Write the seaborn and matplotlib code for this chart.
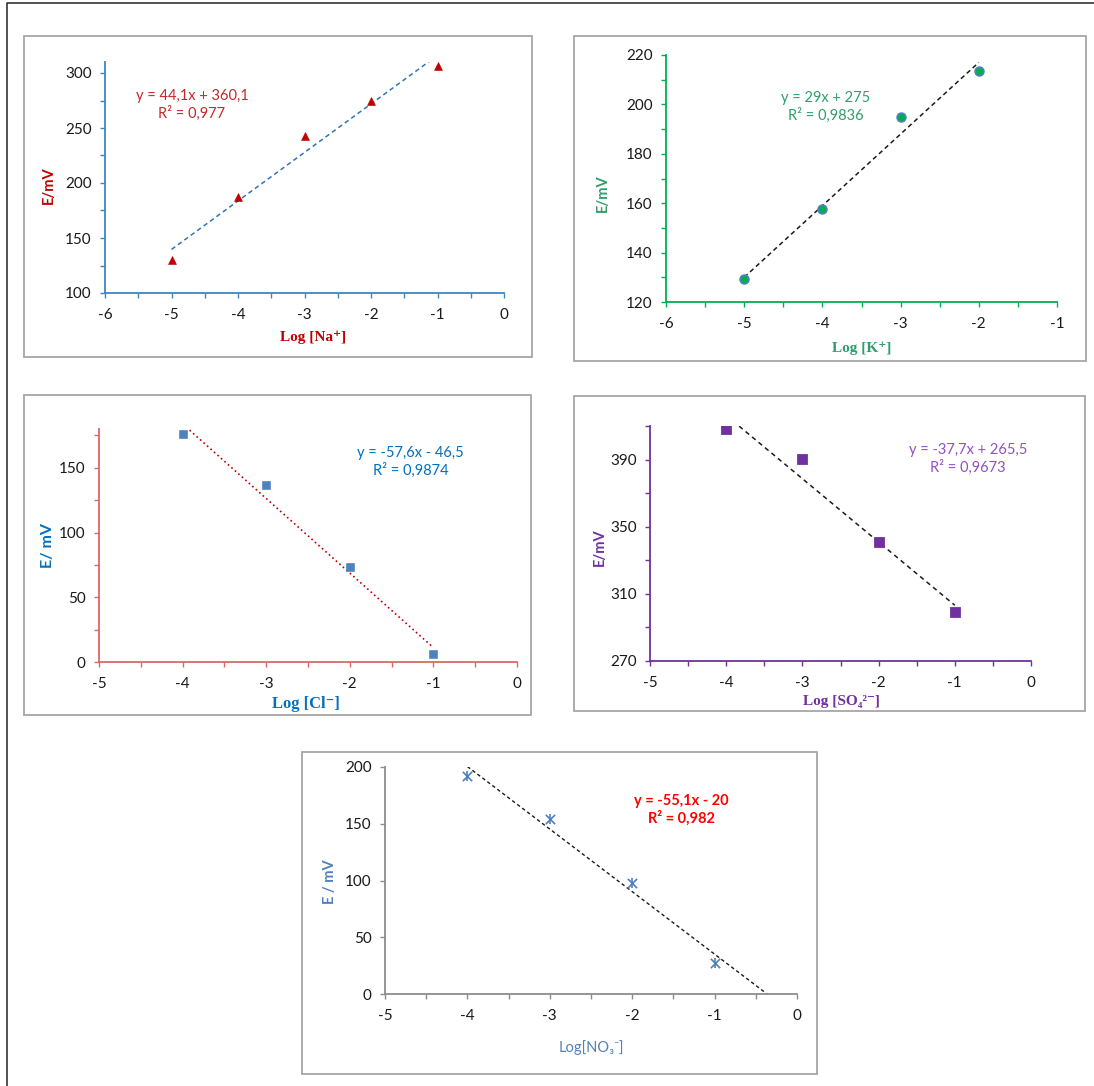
import matplotlib
matplotlib.use('Agg')
import matplotlib.pyplot as plt
from matplotlib.lines import Line2D
from matplotlib.patches import Rectangle
from matplotlib.ticker import MultipleLocator
import numpy as np
import seaborn as sns

W, H = 1094, 1086

# measured electrode potentials, E (mV) vs log of ion concentration
na_log = [-5, -4, -3, -2, -1]
na_e = [130, 187, 243, 274.5, 306]
k_log = [-5, -4, -3, -2]
k_e = [129.5, 157.5, 195, 213.5]
cl_log = [-4, -3, -2, -1]
cl_e = [176.5, 136.5, 73.5, 6]
so4_log = [-4, -3, -2, -1]
so4_e = [408, 390.5, 341, 299]
no3_log = [-4, -3, -2, -1]
no3_e = [192, 154, 98, 27]

# trendlines as printed on the original chart (slope, intercept)
na_fit = (44.1, 360.1)
k_fit = (29, 275)
cl_fit = (-57.6, -46.5)
so4_fit = (-37.7, 265.5)
no3_fit = (-55.1, -20)

na_eq = 'y = 44,1x + 360,1\nR² = 0,977'
k_eq = 'y = 29x + 275\nR² = 0,9836'
cl_eq = 'y = -57,6x - 46,5\nR² = 0,9874'
so4_eq = 'y = -37,7x + 265,5\nR² = 0,9673'
no3_eq = 'y = -55,1x - 20\nR² = 0,982'

sns.set_theme(style='white')
plt.rcParams['font.family'] = ['Lato', 'DejaVu Sans']

SERIF = ['Liberation Serif', 'DejaVu Serif']
SANS = ['Lato', 'DejaVu Sans']


def px_rect(left, top, right, bottom):
    return [left / W, 1 - bottom / H, (right - left) / W, (bottom - top) / H]


def panel(fig, box, rect, xs, ys, fit, span, xlim, ylim, xminor, yticks,
          axis_color, scatter_kw, line_kw, eq, eq_pos, eq_kw,
          ylabel, ylabel_xy, ylabel_kw, xlabel, xlabel_xy, xlabel_kw):
    # light gray frame around each chart, like the excel chart area
    l, t, r, b = box
    fig.add_artist(Rectangle((l / W, 1 - b / H), (r - l) / W, (b - t) / H,
                             transform=fig.transFigure, facecolor='none',
                             edgecolor='#a6a6a6', lw=1.3))
    ax = fig.add_axes(px_rect(*rect))
    ax.set_xlim(*xlim)
    ax.set_ylim(*ylim)

    tx = np.linspace(span[0], span[1], 50)
    ax.plot(tx, fit[0] * tx + fit[1], zorder=2, **line_kw)
    for kw in (scatter_kw if isinstance(scatter_kw, list) else [scatter_kw]):
        sns.scatterplot(x=xs, y=ys, ax=ax, zorder=3, legend=False, **kw)

    ymajor, yminor = yticks
    ax.xaxis.set_major_locator(MultipleLocator(1))
    ax.xaxis.set_minor_locator(MultipleLocator(xminor))
    ax.yaxis.set_major_locator(MultipleLocator(ymajor, offset=ylim[0] % ymajor))
    if yminor:
        ax.yaxis.set_minor_locator(MultipleLocator(yminor, offset=ylim[0] % yminor))
    ax.xaxis.set_major_formatter(plt.FuncFormatter(lambda v, p: f'{v:g}'))
    ax.yaxis.set_major_formatter(plt.FuncFormatter(lambda v, p: f'{v:g}'))

    for side in ('top', 'right'):
        ax.spines[side].set_visible(False)
    for side in ('left', 'bottom'):
        ax.spines[side].set_color(axis_color)
        ax.spines[side].set_linewidth(1.3)
    ax.tick_params(which='both', direction='out', color=axis_color, width=1.0,
                   length=3.5, labelsize=11, labelcolor='#1a1a1a')
    ax.tick_params(axis='x', which='major', pad=7, bottom=True)
    ax.tick_params(axis='y', which='major', pad=6, left=True)
    ax.tick_params(which='minor', bottom=True, left=True)
    ax.set_xlabel('')
    ax.set_ylabel('')
    ax.set_facecolor('white')

    ax.text(eq_pos[0], eq_pos[1], eq, transform=ax.transAxes, ha='center', va='center',
            fontsize=10.5, linespacing=1.2, **eq_kw)
    fig.text(ylabel_xy[0] / W, 1 - ylabel_xy[1] / H, ylabel, rotation=90,
             ha='center', va='center', **ylabel_kw)
    fig.text(xlabel_xy[0] / W, 1 - xlabel_xy[1] / H, xlabel,
             ha='center', va='center', **xlabel_kw)
    return ax


fig = plt.figure(figsize=(W / 100, H / 100), dpi=100)

# outer frame of the figure (left and top edges only)
fig.add_artist(Line2D([7 / W, 7 / W, 1], [0, 1 - 3 / H, 1 - 3 / H],
                      transform=fig.transFigure, color='#333333', lw=1.2))

panel(fig, (24, 36, 532, 357), (105, 62, 504, 293), na_log, na_e, na_fit, (-5, -1),
      (-6, 0), (100, 310), 0.5, (50, 25), '#3a87c8',
      dict(marker='^', s=32, color='#c00000', edgecolor='#c00000'),
      dict(color='#2e75b6', lw=1.1, dashes=(3, 2.2)),
      na_eq, (0.218, 0.814), dict(color='#c62828'),
      'E/mV', (49, 185), dict(color='#c00000', fontsize=10.5, fontweight='bold', family=SANS),
      'Log [Na⁺]', (313, 337), dict(color='#c00000', fontsize=11, fontweight='bold', family=SERIF))

panel(fig, (574, 36, 1086, 361), (666, 55, 1057, 302), k_log, k_e, k_fit, (-5, -2),
      (-6, -1), (120, 220), 0.5, (20, 10), '#00b050',
      dict(marker='o', s=40, color='#00b050', edgecolor='#4f81bd', linewidth=1.2),
      dict(color='#1a1a1a', lw=1.1, dashes=(3, 2.2)),
      k_eq, (0.409, 0.79), dict(color='#2f9e6c'),
      'E/mV', (603, 193), dict(color='#2f9e6c', fontsize=10.5, fontweight='bold', family=SANS),
      'Log [K⁺]', (862, 348), dict(color='#2f9e6c', fontsize=11, fontweight='bold', family=SERIF))

panel(fig, (24, 395, 531, 715), (99, 429, 517, 662), cl_log, cl_e, cl_fit, (-4, -1),
      (-5, 0), (0, 180), 0.5, (50, 25), '#e06666',
      dict(marker='s', s=30, color='#4f81bd', edgecolor='#4f81bd'),
      dict(color='#c00000', lw=1.2, dashes=(1, 1.8)),
      cl_eq, (0.746, 0.858), dict(color='#0070c0'),
      'E/ mV', (48, 545), dict(color='#0070c0', fontsize=11.5, fontweight='bold', family=SANS),
      'Log [Cl⁻]', (306, 704), dict(color='#0070c0', fontsize=12, fontweight='bold', family=SERIF))

panel(fig, (574, 396, 1085, 711), (650, 426, 1031, 661), so4_log, so4_e, so4_fit, (-4, -1),
      (-5, 0), (270, 410), 0.5, (40, 20), '#7030a0',
      dict(marker='s', s=52, color='#7030a0', edgecolor='#7030a0'),
      dict(color='#1a1a1a', lw=1.1, dashes=(3, 2.5)),
      so4_eq, (0.835, 0.86), dict(color='#9150c4'),
      'E/mV', (600, 547), dict(color='#7030a0', fontsize=10.5, fontweight='bold', family=SANS),
      'Log [SO₄²⁻]', (841, 702), dict(color='#7030a0', fontsize=11, fontweight='bold', family=SERIF))

panel(fig, (302, 752, 817, 1074), (385, 767, 797, 994), no3_log, no3_e, no3_fit, (-4, -0.3),
      (-5, 0), (0, 200), 0.5, (50, None), '#8c8c8c',
      [dict(marker='x', s=45, color='#4f81bd', linewidth=1.2),
       dict(marker='|', s=60, color='#4f81bd', linewidth=1.2)],
      dict(color='#1a1a1a', lw=1.0, dashes=(2.5, 2)),
      no3_eq, (0.72, 0.81), dict(color='#ff0000', fontweight='bold'),
      'E / mV', (330, 882), dict(color='#4f81bd', fontsize=10.5, fontweight='bold', family=SANS),
      'Log[NO₃⁻]', (591, 1048), dict(color='#4f81bd', fontsize=10.5, family=SANS))

fig.savefig('out.png', dpi=100)
